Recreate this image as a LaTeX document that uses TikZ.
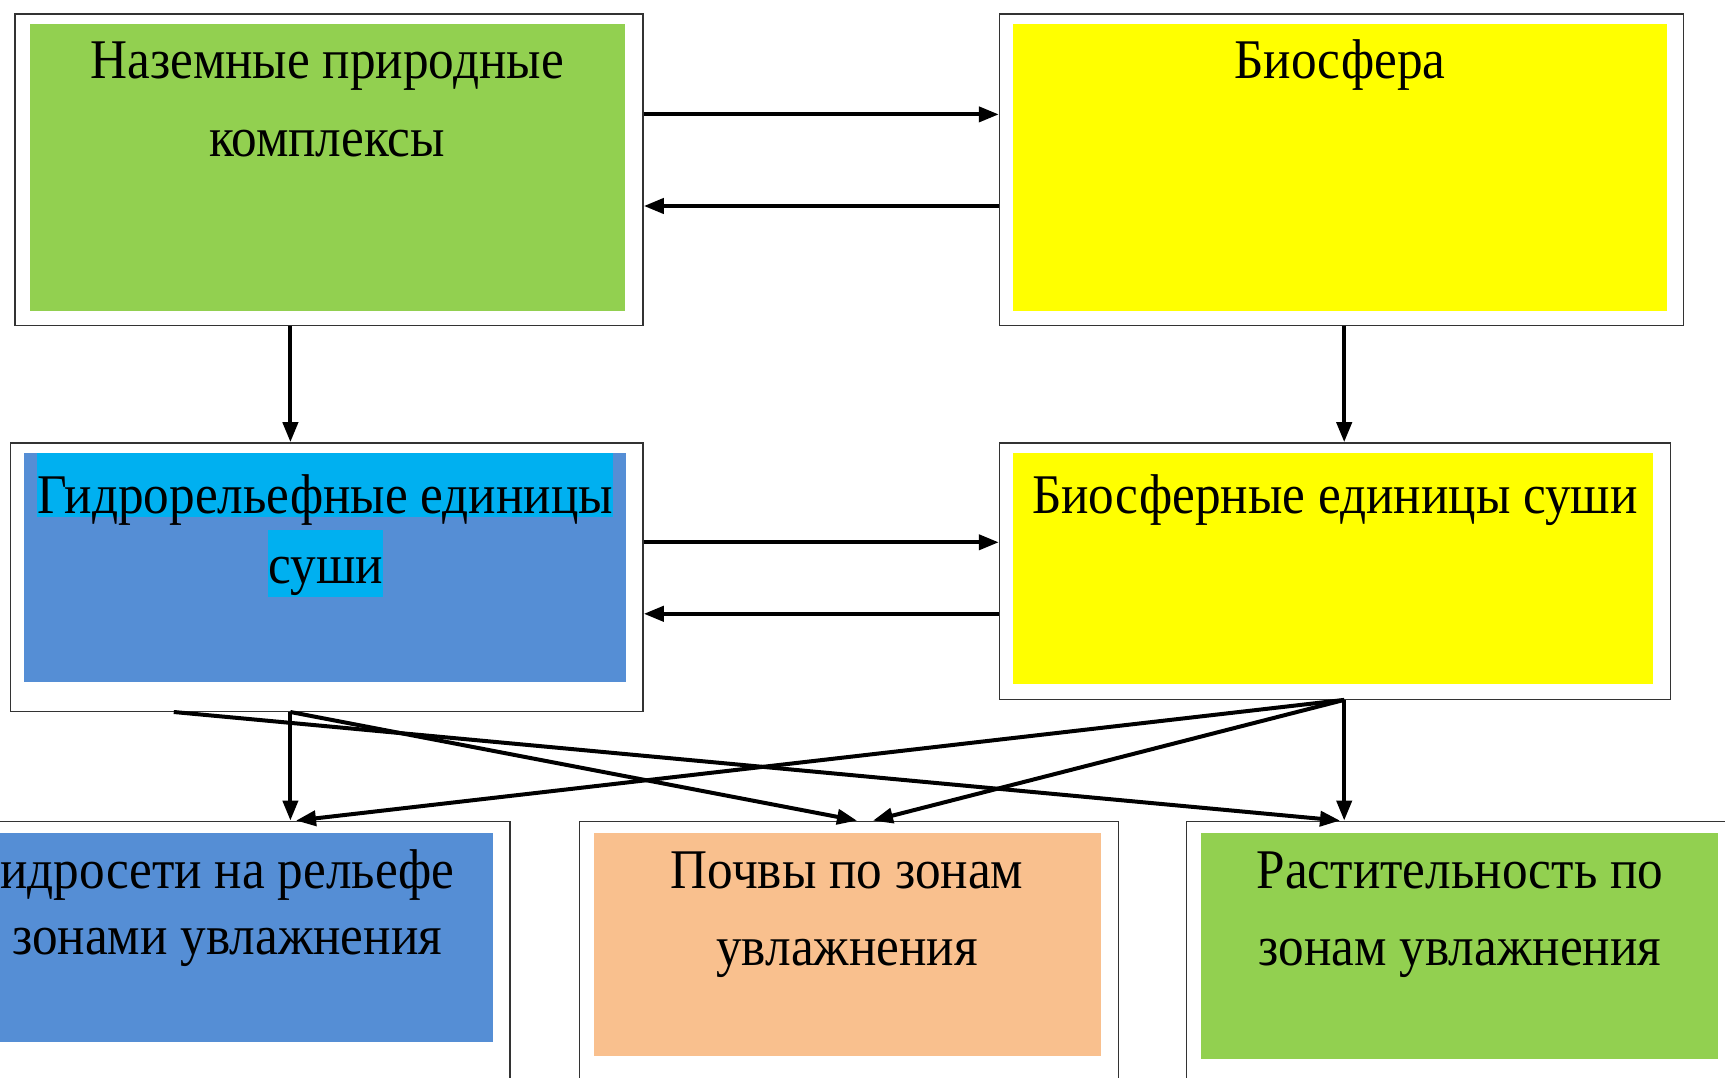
\documentclass[tikz,border=0pt]{standalone}
\usepackage{fontspec}
\setmainfont{Liberation Serif}[FakeStretch=0.915]
\usetikzlibrary{arrows.meta}
\definecolor{cgreen}{HTML}{92D050}
\definecolor{cyellow}{HTML}{FFFF00}
\definecolor{cblue}{HTML}{558ED5}
\definecolor{ccyan}{HTML}{00B0F0}
\definecolor{cpeach}{HTML}{F9C08E}
\begin{document}
\begin{tikzpicture}[x=1pt,y=-1pt,
  frame/.style={draw=black!80, line width=1.4pt, fill=white, inner sep=0pt, anchor=north west},
  conn/.style={line width=4pt, -{Triangle[length=20pt,width=15pt]}},
  lbl/.style={font=\fontsize{56}{70}\selectfont, inner sep=0pt, anchor=base}]
\clip (0,0) rectangle (1725,1078);
\fill[white] (0,0) rectangle (1725,1078);

% boxes
\node[frame, minimum width=628.1pt, minimum height=311.3pt] (A) at (14.3,13.2) {};
\fill[cgreen] (29.7,24.2) rectangle (624.8,311.3);
\node[frame, minimum width=684.2pt, minimum height=311.3pt] (B) at (998.8,13.2) {};
\fill[cyellow] (1013,24.2) rectangle (1666.5,311.3);
\node[frame, minimum width=632.5pt, minimum height=268.4pt] (C) at (9.9,442.2) {};
\fill[cblue] (24.2,453.2) rectangle (625.9,682);
\fill[ccyan] (37.4,453.2) rectangle (612.7,517);
\fill[ccyan] (268.4,530) rectangle (382.8,597);
\node[frame, minimum width=671pt, minimum height=256.3pt] (D) at (998.8,442.2) {};
\fill[cyellow] (1013,453.2) rectangle (1653.3,684.2);
\node[frame, minimum width=539.3pt, minimum height=280pt] (E) at (-30,820.6) {};
\fill[cblue] (-10,832.7) rectangle (492.8,1041.7);
\node[frame, minimum width=539pt, minimum height=280pt] (F) at (578.6,820.6) {};
\fill[cpeach] (594,832.7) rectangle (1101,1056);
\node[frame, minimum width=542pt, minimum height=280pt] (G) at (1185.8,820.6) {};
\fill[cgreen] (1201.2,832.7) rectangle (1718,1059.3);

% texts
\node[lbl] (tA1) at (327,79) {Наземные природные};
\node[lbl] (tA2) at (327,157) {комплексы};
\node[lbl] (tB1) at (1340,79) {Биосфера};
\node[lbl] (tC1) at (325,513) {Гидрорельефные единицы};
\node[lbl] (tC2) at (325.6,583) {суши};
\node[lbl] (tD1) at (1335,513) {Биосферные единицы суши};
\node[lbl, anchor=base west] (tE1) at (0,888) {идросети на рельефе};
\node[lbl, anchor=base west] (tE2) at (12,954) {зонами увлажнения};
\node[lbl] (tF1) at (847,888) {Почвы по зонам};
\node[lbl] (tF2) at (847,965) {увлажнения};
\node[lbl] (tG1) at (1460,888) {Растительность по};
\node[lbl] (tG2) at (1460,965) {зонам увлажнения};

% level coordinates
\coordinate (yAB) at (0,114.4);
\coordinate (yBA) at (0,206);
\coordinate (yCD) at (0,542.3);
\coordinate (yDC) at (0,613.8);
\coordinate (xL) at (290.4,0);
\coordinate (xL2) at (173.8,0);
\coordinate (xR) at (1344.2,0);
\coordinate (xE2) at (296,0);
\coordinate (xF1) at (857,0);
\coordinate (xF2) at (873,0);
\coordinate (xG1) at (1340,0);

% connectors
\draw[conn] (A.east |- yAB) -- (B.west |- yAB);
\draw[conn] (B.west |- yBA) -- (A.east |- yBA);
\draw[conn] (A.south -| xL) -- (C.north -| xL);
\draw[conn] (B.south -| xR) -- (D.north -| xR);
\draw[conn] (C.east |- yCD) -- (D.west |- yCD);
\draw[conn] (D.west |- yDC) -- (C.east |- yDC);

\draw[conn] (C.south -| xL) -- (E.north -| xL);
\draw[conn] (C.south -| xL) -- (F.north -| xF1);
\draw[conn] (C.south -| xL2) -- (G.north -| xG1);
\draw[conn] (D.south -| xR) -- (G.north -| xR);
\draw[conn] (D.south -| xR) -- (F.north -| xF2);
\draw[conn] (D.south -| xR) -- (E.north -| xE2);
\end{tikzpicture}
\end{document}
